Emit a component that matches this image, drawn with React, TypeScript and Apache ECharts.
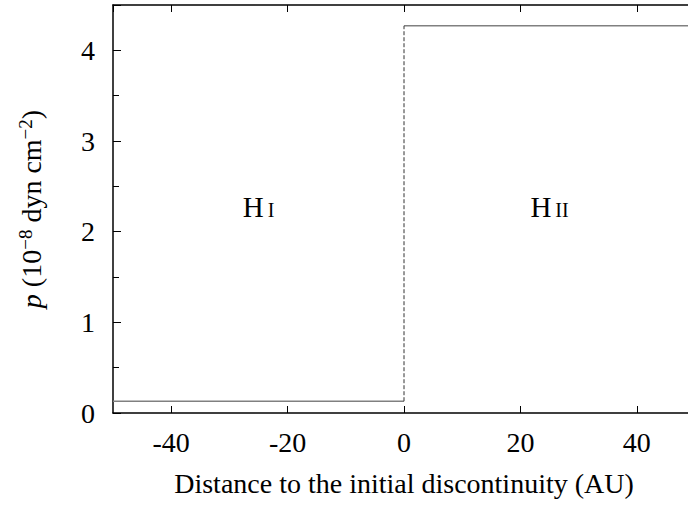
import React, { useEffect, useRef } from "react";
import * as echarts from "echarts";

// Pressure profile across the initial discontinuity (HI / HII regions)
const leftRegion: [number, number][] = [[-50, 0.13], [0, 0.13]];
const rightRegion: [number, number][] = [[0, 4.27], [50, 4.27]];
const jump: [number, number][] = [[0, 0.13], [0, 4.27]];
const regionNames = ["I", "II"];
const regionPositions: [number, number][] = [[-25, 2.27], [25, 2.27]];

const FONT = "'Liberation Serif', 'Times New Roman', serif";
const FS = 28;

export default function App() {
  const ref = useRef<HTMLDivElement>(null);

  useEffect(() => {
    if (!ref.current) return;
    const chart = echarts.init(ref.current, undefined, { renderer: "svg" });
    const axisLine = { show: true, onZero: false, lineStyle: { color: "#000", width: 1.5 } };
    chart.setOption({
      animation: false,
      backgroundColor: "#fff",
      textStyle: { fontFamily: FONT },
      grid: { left: 113, right: 5, top: 5, bottom: 92 },
      xAxis: [
        {
          type: "value",
          min: -50,
          max: 50,
          axisLine,
          axisTick: { inside: true, length: 7, lineStyle: { color: "#000" } },
          splitLine: { show: false },
          axisLabel: {
            showMinLabel: false,
            showMaxLabel: false,
            color: "#000",
            fontSize: FS,
            fontFamily: FONT,
            margin: 15,
          },
          name: "Distance to the initial discontinuity (AU)",
          nameLocation: "middle",
          nameGap: 56,
          nameTextStyle: { color: "#000", fontSize: FS, fontFamily: FONT },
        },
        {
          type: "value",
          position: "top",
          min: -50,
          max: 50,
          axisLine,
          axisTick: { inside: true, length: 7, lineStyle: { color: "#000" } },
          axisLabel: { show: false },
          splitLine: { show: false },
        },
      ],
      yAxis: [
        {
          type: "value",
          min: 0,
          max: 4.5,
          interval: 1,
          axisLine,
          axisTick: { inside: true, length: 8, lineStyle: { color: "#000" } },
          minorTick: { show: true, splitNumber: 2, length: 6, lineStyle: { color: "#000" } },
          splitLine: { show: false },
          axisLabel: {
            showMaxLabel: false,
            color: "#000",
            fontSize: FS,
            fontFamily: FONT,
            margin: 18,
          },
          name: "{i|p}{n| (10}{s|−8}{n| dyn cm}{s|−2}{n|)}",
          nameLocation: "middle",
          nameRotate: 90,
          nameGap: 66,
          nameTextStyle: {
            color: "#000",
            fontFamily: FONT,
            rich: {
              i: { fontSize: FS, fontStyle: "italic", fontFamily: FONT, color: "#000" },
              n: { fontSize: FS, fontFamily: FONT, color: "#000" },
              s: { fontSize: 19, fontFamily: FONT, color: "#000", verticalAlign: "top", padding: [0, 0, 12, 0] },
            },
          },
        },
        {
          type: "value",
          position: "right",
          min: 0,
          max: 4.5,
          interval: 1,
          axisLine,
          axisTick: { inside: true, length: 6, lineStyle: { color: "#000" } },
          minorTick: { show: true, splitNumber: 2, length: 4, lineStyle: { color: "#000" } },
          axisLabel: { show: false },
          splitLine: { show: false },
        },
      ],
      series: [
        {
          type: "line",
          data: leftRegion,
          symbol: "none",
          lineStyle: { color: "#808080", width: 1.5 },
        },
        {
          type: "line",
          data: rightRegion,
          symbol: "none",
          lineStyle: { color: "#808080", width: 1.5 },
        },
        {
          type: "line",
          data: jump,
          symbol: "none",
          lineStyle: { color: "#333", width: 1, type: [4, 2] },
        },
        {
          type: "scatter",
          data: regionPositions.map((p, i) => ({ value: p, name: regionNames[i] })),
          symbolSize: 0,
          itemStyle: { color: "#000", opacity: 1 },
          label: {
            show: true,
            position: "inside",
            color: "#000",
            textBorderWidth: 0,
            formatter: (p: any) => `{h|H}{c|${p.name}}`,
            rich: {
              h: { fontSize: 29, fontFamily: FONT, color: "#000", textBorderWidth: 0 },
              c: { fontSize: 20, fontFamily: FONT, color: "#000", textBorderWidth: 0, padding: [5, 0, 0, 4] },
            },
          },
        },
      ],
    });
    return () => chart.dispose();
  }, []);

  return (
    <div
      ref={ref}
      style={{ position: "fixed", left: 0, top: 0, width: 700, height: 505 }}
    />
  );
}
